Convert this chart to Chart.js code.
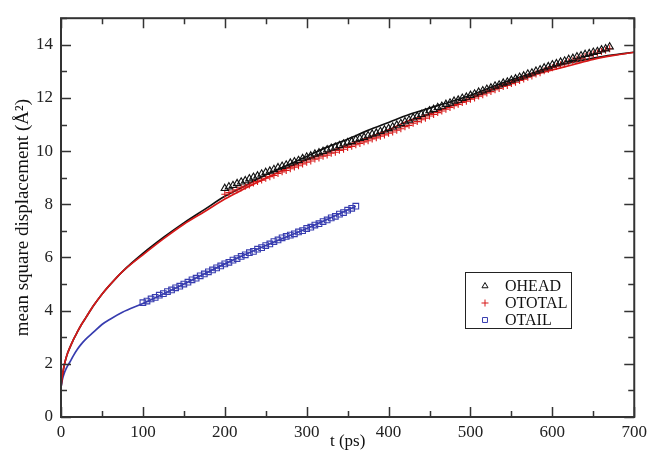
<!DOCTYPE html>
<html>
<head>
<meta charset="utf-8">
<script src="https://cdn.jsdelivr.net/npm/chart.js@4.4.1/dist/chart.umd.min.js"></script>
<style>
  body { margin: 0; background: #fff; }
</style>
</head>
<body>
<canvas id="msd" width="652" height="456"></canvas>
<script>
// fitted curves (t in ps)
let lineTimes = [0, 1, 2, 4, 6, 8, 10, 15, 20, 25, 30, 40, 50, 60, 75, 100, 125, 150, 175, 200,
    225, 250, 275, 300, 325, 350, 375, 400, 425, 450, 475, 500, 525, 550, 575, 600, 625, 650, 675, 700];
let headLine = [1.1, 1.4, 1.62, 1.95, 2.2, 2.4, 2.55, 2.9, 3.2, 3.48, 3.72, 4.2, 4.62, 4.98, 5.47, 6.15, 6.75, 7.3, 7.8, 8.3,
    8.7, 9.1, 9.45, 9.8, 10.15, 10.45, 10.78, 11.08, 11.38, 11.62, 11.85, 12.1, 12.4, 12.68, 12.93, 13.17, 13.35, 13.5, 13.62, 13.72];
let totalLine = [1.1, 1.4, 1.62, 1.95, 2.2, 2.4, 2.55, 2.9, 3.2, 3.48, 3.72, 4.2, 4.62, 4.98, 5.47, 6.1, 6.7, 7.25, 7.72, 8.2,
    8.6, 8.98, 9.35, 9.68, 9.95, 10.23, 10.5, 10.8, 11.15, 11.4, 11.68, 11.98, 12.3, 12.6, 12.85, 13.05, 13.25, 13.45, 13.6, 13.72];
let tailLineTimes = [0, 1, 2, 4, 6, 8, 10, 15, 20, 25, 30, 40, 50, 60, 75, 100, 150, 200, 250, 300, 360];
let tailLine = [1.1, 1.3, 1.45, 1.65, 1.8, 1.92, 2.02, 2.3, 2.55, 2.75, 2.92, 3.2, 3.48, 3.68, 3.94, 4.27, 5.0, 5.76, 6.45, 7.09, 7.93];

// simulation points
let headTimes = [200, 205, 210, 215, 220, 225, 230, 235, 240, 245, 250, 255, 260, 265, 270, 275, 280, 285, 290, 295,
    300, 305, 310, 315, 320, 325, 330, 335, 340, 345, 350, 355, 360, 365, 370, 375, 380, 385, 390, 395,
    400, 405, 410, 415, 420, 425, 430, 435, 440, 445, 450, 455, 460, 465, 470, 475, 480, 485, 490, 495,
    500, 505, 510, 515, 520, 525, 530, 535, 540, 545, 550, 555, 560, 565, 570, 575, 580, 585, 590, 595,
    600, 605, 610, 615, 620, 625, 630, 635, 640, 645, 650, 655, 660, 665, 670];
let headPoints = [8.60, 8.66, 8.71, 8.78, 8.84, 8.89, 8.96, 9.02, 9.07, 9.14,
    9.20, 9.25, 9.31, 9.38, 9.43, 9.48, 9.55, 9.60, 9.65, 9.72,
    9.78, 9.82, 9.89, 9.94, 9.99, 10.05, 10.11, 10.15, 10.21, 10.27,
    10.32, 10.36, 10.43, 10.48, 10.52, 10.58, 10.64, 10.68, 10.74, 10.80,
    10.85, 10.91, 10.98, 11.04, 11.11, 11.17, 11.25, 11.31, 11.38, 11.44,
    11.52, 11.57, 11.64, 11.69, 11.76, 11.81, 11.88, 11.92, 11.99, 12.03,
    12.10, 12.15, 12.22, 12.27, 12.33, 12.38, 12.45, 12.49, 12.56, 12.60,
    12.67, 12.72, 12.78, 12.83, 12.90, 12.94, 13.01, 13.06, 13.13, 13.18,
    13.25, 13.29, 13.35, 13.39, 13.45, 13.49, 13.55, 13.59, 13.64, 13.67,
    13.72, 13.75, 13.81, 13.85, 13.92];
let totalTimes = headTimes;
let totalPoints = [8.38, 8.44, 8.50, 8.55, 8.62, 8.68, 8.73, 8.80, 8.86, 8.91,
    8.98, 9.04, 9.09, 9.16, 9.22, 9.27, 9.34, 9.40, 9.45, 9.52,
    9.58, 9.63, 9.70, 9.74, 9.81, 9.85, 9.92, 9.96, 10.03, 10.07,
    10.14, 10.18, 10.24, 10.29, 10.35, 10.39, 10.46, 10.50, 10.56, 10.61,
    10.67, 10.72, 10.79, 10.84, 10.92, 10.97, 11.05, 11.11, 11.18, 11.24,
    11.32, 11.38, 11.45, 11.51, 11.58, 11.64, 11.71, 11.76, 11.83, 11.88,
    11.95, 12.00, 12.07, 12.12, 12.19, 12.24, 12.31, 12.36, 12.43, 12.47,
    12.54, 12.59, 12.66, 12.71, 12.78, 12.83, 12.90, 12.95, 13.02, 13.07,
    13.14, 13.19, 13.25, 13.29, 13.36, 13.40, 13.46, 13.50, 13.56, 13.59,
    13.65, 13.69, 13.75, 13.79, 13.85];
let tailTimes = [100, 105, 110, 115, 120, 125, 130, 135, 140, 145, 150, 155, 160, 165, 170, 175, 180, 185, 190, 195,
    200, 205, 210, 215, 220, 225, 230, 235, 240, 245, 250, 255, 260, 265, 270, 275, 280, 285, 290, 295,
    300, 305, 310, 315, 320, 325, 330, 335, 340, 345, 350, 355, 360];
let tailPoints = [4.30, 4.36, 4.44, 4.50, 4.58, 4.64, 4.72, 4.78, 4.86, 4.92,
    5.00, 5.07, 5.16, 5.22, 5.31, 5.38, 5.46, 5.53, 5.61, 5.68,
    5.76, 5.82, 5.90, 5.96, 6.04, 6.10, 6.18, 6.23, 6.31, 6.37,
    6.45, 6.51, 6.60, 6.66, 6.74, 6.79, 6.84, 6.89, 6.96, 7.01,
    7.09, 7.14, 7.22, 7.27, 7.35, 7.41, 7.49, 7.55, 7.63, 7.69,
    7.78, 7.85, 7.93];

let seriesNames = ['OHEAD', 'OTOTAL', 'OTAIL'];
let yTickValues = [0, 2, 4, 6, 8, 10, 12, 14];

const black = '#111111';
const red = 'rgb(215, 25, 25)';
const blue = 'rgb(55, 60, 175)';
const serif = '"Liberation Serif", "Times New Roman", serif';

function pairs(xs, ys) {
    return xs.map((x, i) => ({ x: x, y: ys[i] }));
}

// inward ticks on all four sides, plus the frame and the boxed legend
const frameAndLegend = {
    id: 'frameAndLegend',
    afterDatasetsDraw(chart) {
        const ctx = chart.ctx;
        const a = chart.chartArea;
        const xs = chart.scales.x;
        const ys = chart.scales.y;
        ctx.save();
        ctx.strokeStyle = '#333';
        ctx.lineWidth = 1.5;
        ctx.beginPath();
        for (let v = 0; v <= 700; v += 50) {
            const px = Math.round(xs.getPixelForValue(v)) + 0.5;
            const len = v % 100 === 0 ? 10 : 6;
            ctx.moveTo(px, a.bottom); ctx.lineTo(px, a.bottom - len);
            ctx.moveTo(px, a.top); ctx.lineTo(px, a.top + len);
        }
        for (let v = 0; v <= 15; v += 1) {
            const py = Math.round(ys.getPixelForValue(v)) + 0.5;
            const len = v % 2 === 0 ? 10 : 6;
            ctx.moveTo(a.left, py); ctx.lineTo(a.left + len, py);
            ctx.moveTo(a.right, py); ctx.lineTo(a.right - len, py);
        }
        ctx.stroke();
        ctx.lineWidth = 2;
        ctx.strokeRect(a.left, a.top, a.right - a.left, a.bottom - a.top);
        ctx.restore();
    },
    afterDraw(chart) {
        const ctx = chart.ctx;
        const styles = ['triangle', 'cross', 'rect'];
        const colors = [black, red, blue];
        ctx.save();
        ctx.strokeStyle = '#222';
        ctx.lineWidth = 1;
        ctx.strokeRect(465.5, 272.5, 106, 56);
        ctx.font = '16px ' + serif;
        ctx.textBaseline = 'middle';
        ctx.textAlign = 'left';
        seriesNames.forEach((name, i) => {
            const y = 286 + i * 17;
            ctx.strokeStyle = colors[i];
            ctx.fillStyle = 'rgba(0,0,0,0)';
            ctx.lineWidth = 1;
            Chart.helpers.drawPoint(ctx, { pointStyle: styles[i], radius: 3.5, rotation: 0, borderWidth: 1 }, 485, y);
            ctx.fillStyle = '#111';
            ctx.fillText(name, 505, y + 1);
        });
        ctx.restore();
    }
};

const lineStyle = { pointRadius: 0, borderWidth: 1.7, fill: false, cubicInterpolationMode: 'monotone' };
const markStyle = { showLine: false, pointBorderWidth: 1.1, pointBackgroundColor: 'rgba(0,0,0,0)' };

const msdChart = new Chart(document.getElementById('msd'), {
    type: 'line',
    data: {
        datasets: [
            Object.assign({ label: seriesNames[2], data: pairs(tailTimes, tailPoints), pointStyle: 'rect', pointRadius: 4, pointBorderColor: blue }, markStyle),
            Object.assign({ label: seriesNames[0], data: pairs(headTimes, headPoints), pointStyle: 'triangle', pointRadius: 4.2, pointBorderColor: black }, markStyle),
            Object.assign({ label: seriesNames[1], data: pairs(totalTimes, totalPoints), pointStyle: 'cross', pointRadius: 3.5, pointBorderColor: red }, markStyle),
            Object.assign({ label: 'total fit', data: pairs(lineTimes, totalLine), borderColor: red }, lineStyle),
            Object.assign({ label: 'head fit', data: pairs(lineTimes, headLine), borderColor: black }, lineStyle),
            Object.assign({ label: 'tail fit', data: pairs(tailLineTimes, tailLine), borderColor: blue }, lineStyle)
        ]
    },
    options: {
        responsive: false,
        animation: false,
        layout: { padding: { left: 0, right: 13, top: 14, bottom: 0 } },
        plugins: {
            legend: { display: false },
            tooltip: { enabled: false }
        },
        scales: {
            x: {
                type: 'linear',
                min: 0,
                max: 700,
                grid: { display: false, drawTicks: false },
                border: { display: false },
                ticks: { stepSize: 100, padding: 5, color: '#222', font: { family: serif, size: 17 } },
                title: { display: true, text: 't (ps)', color: '#111', font: { family: serif, size: 17 }, padding: { top: 0, bottom: 4 } },
                afterFit(scale) { scale.height = 39; }
            },
            y: {
                type: 'linear',
                min: 0,
                max: 15,
                grid: { display: false, drawTicks: false },
                border: { display: false },
                ticks: { padding: 8, color: '#222', font: { family: serif, size: 17 } },
                afterBuildTicks(scale) { scale.ticks = yTickValues.map(v => ({ value: v })); },
                title: { display: true, text: 'mean square displacement (Å²)', color: '#111', font: { family: serif, size: 19 }, padding: { top: 12, bottom: 0 } },
                afterFit(scale) { scale.width = 61; }
            }
        }
    },
    plugins: [frameAndLegend]
});
</script>
</body>
</html>
